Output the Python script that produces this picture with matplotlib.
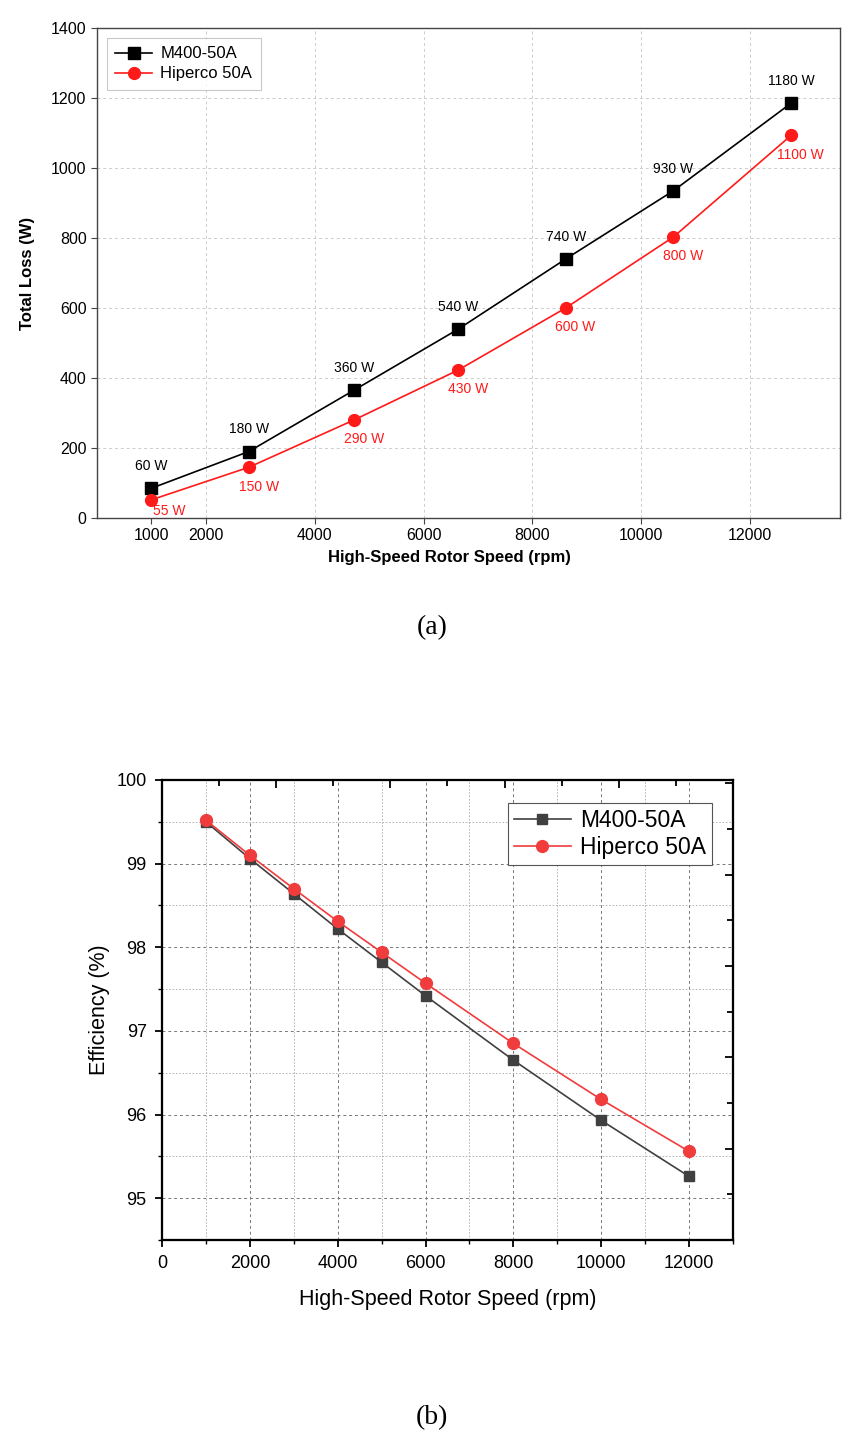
import matplotlib
matplotlib.use("Agg")
import matplotlib.pyplot as plt
from matplotlib.ticker import MultipleLocator, FixedLocator

plt.rcParams['font.family'] = ['Liberation Sans', 'DejaVu Sans']

# (a) total loss vs rotor speed
loss_speed = [1000, 2790, 4720, 6640, 8610, 10590, 12750]
loss_m400 = [85, 190, 365, 540, 740, 935, 1185]
loss_hiperco = [52, 145, 280, 423, 600, 803, 1093]
label_m400 = ["60 W", "180 W", "360 W", "540 W", "740 W", "930 W", "1180 W"]
label_hiperco = ["55 W", "150 W", "290 W", "430 W", "600 W", "800 W", "1100 W"]

# (b) efficiency vs rotor speed
eff_speed = [1000, 2000, 3000, 4000, 5000, 6000, 8000, 10000, 12000]
eff_m400 = [99.50, 99.06, 98.64, 98.22, 97.82, 97.42, 96.65, 95.93, 95.26]
eff_hiperco = [99.52, 99.10, 98.70, 98.31, 97.94, 97.57, 96.85, 96.18, 95.56]

W, H = 864, 1441
fig = plt.figure(figsize=(W / 100, H / 100), dpi=100)


def rect(left, top, right, bottom):
    return [left / W, 1 - bottom / H, (right - left) / W, (bottom - top) / H]


# ---------------- (a) ----------------
ax1 = fig.add_axes(rect(97, 28, 840, 518))
ax1.plot(loss_speed, loss_m400, color='black', lw=1.2, marker='s', ms=8,
         label='M400-50A', zorder=3)
ax1.plot(loss_speed, loss_hiperco, color='#ff1a1a', lw=1.2, marker='o', ms=8.5,
         label='Hiperco 50A', zorder=3)

for i, (x, y, t) in enumerate(zip(loss_speed, loss_m400, label_m400)):
    ax1.annotate(t, (x, y), xytext=(0, 16), textcoords='offset points',
                 ha='center', va='center', fontsize=10, color='black')
for i, (x, y, t) in enumerate(zip(loss_speed, loss_hiperco, label_hiperco)):
    off = (13, -8) if i == 0 else (7, -14)
    ax1.annotate(t, (x, y), xytext=off, textcoords='offset points',
                 ha='center', va='center', fontsize=10, color='#ff1a1a')

ax1.set_xlim(0, 13650)
ax1.set_ylim(0, 1400)
ax1.set_xticks(range(2000, 13000, 2000))
ax1.set_xticks([1000], minor=True)
ax1.set_xticklabels([str(v) for v in range(2000, 13000, 2000)])
ax1.set_xticklabels(['1000'], minor=True)
ax1.set_yticks(range(0, 1401, 200))
ax1.tick_params(axis='both', which='both', labelsize=11.5, direction='out',
                length=4, width=0.8, color='#444444')
ax1.grid(True, which='major', color='#cccccc', ls=(0, (3, 3)), lw=0.7)
for s in ax1.spines.values():
    s.set_color('#444444')
    s.set_linewidth(1.0)
ax1.set_xlabel('High-Speed Rotor Speed (rpm)', fontsize=12, fontweight='bold')
ax1.set_ylabel('Total Loss (W)', fontsize=12, fontweight='bold')
ax1.xaxis.set_label_coords(0.475, -0.08)
ax1.xaxis.label.set_va('center')
ax1.yaxis.set_label_coords(-0.094, 0.5)
ax1.yaxis.label.set_va('center')
leg1 = ax1.legend(loc='upper left', fontsize=12, frameon=True, fancybox=False,
                  edgecolor='#bbbbbb', borderaxespad=0.6, handlelength=2.2,
                  handletextpad=0.5, labelspacing=0.3, borderpad=0.5)
leg1.get_frame().set_linewidth(0.8)

fig.text(0.5, 1 - 628 / H, '(a)', ha='center', va='center', fontsize=20,
         family=['Liberation Serif', 'DejaVu Serif'])

# ---------------- (b) ----------------
ax2 = fig.add_axes(rect(162, 780, 733, 1240))
ax2.plot(eff_speed, eff_m400, color='#404040', lw=1.2, marker='s', ms=7,
         label='M400-50A', zorder=3)
ax2.plot(eff_speed, eff_hiperco, color='#f03c3c', lw=1.2, marker='o', ms=8.5,
         label='Hiperco 50A', zorder=4)
ax2.set_xlim(0, 13000)
ax2.set_ylim(94.5, 100)
ax2.xaxis.set_major_locator(MultipleLocator(2000))
ax2.xaxis.set_minor_locator(MultipleLocator(1000))
ax2.yaxis.set_major_locator(MultipleLocator(1))
ax2.yaxis.set_minor_locator(MultipleLocator(0.5))
ax2.tick_params(axis='both', which='major', labelsize=13, direction='out',
                length=5, width=1.3, pad=6)
ax2.tick_params(axis='both', which='minor', direction='out', length=3, width=1.0)
ax2.grid(True, which='major', color='#777777', ls=(0, (3, 3)), lw=0.7)
ax2.grid(True, which='minor', color='#aaaaaa', ls=(0, (2, 2)), lw=0.6)
for s in ax2.spines.values():
    s.set_color('black')
    s.set_linewidth(1.5)
ax2.set_xlabel('High-Speed Rotor Speed (rpm)', fontsize=15.5)
ax2.set_ylabel('Efficiency (%)', fontsize=15.5)
ax2.xaxis.set_label_coords(0.5, -0.13)
ax2.xaxis.label.set_va('center')
ax2.yaxis.set_label_coords(-0.11, 0.5)
ax2.yaxis.label.set_va('center')

# Origin-style mirrored top / right axes with their own tick spacing
top = ax2.twiny()
top.set_xlim(0, 10)
top.xaxis.set_major_locator(FixedLocator([2, 4, 6, 8]))
top.xaxis.set_minor_locator(FixedLocator([1, 3, 5, 7, 9]))
top.tick_params(axis='x', which='both', direction='in', labeltop=False, width=1.3)
top.tick_params(axis='x', which='major', length=6)
top.tick_params(axis='x', which='minor', length=4)
right = ax2.twinx()
right.set_ylim(0, 10.07)
right.yaxis.set_major_locator(FixedLocator([2, 4, 6, 8, 10]))
right.yaxis.set_minor_locator(FixedLocator([1, 3, 5, 7, 9]))
right.tick_params(axis='y', which='both', direction='in', labelright=False, width=1.3)
right.tick_params(axis='y', which='major', length=6)
right.tick_params(axis='y', which='minor', length=4)
for a in (top, right):
    for s in a.spines.values():
        s.set_linewidth(1.5)

leg2 = ax2.legend(loc='upper right', bbox_to_anchor=(712 / W, 1 - 803 / H),
                  bbox_transform=fig.transFigure, fontsize=16.5, frameon=True,
                  fancybox=False, edgecolor='#555555', framealpha=1,
                  borderaxespad=0, handlelength=2.5, handletextpad=0.4,
                  labelspacing=0.2, borderpad=0.25)
leg2.get_frame().set_linewidth(0.8)

fig.text(0.5, 1 - 1418 / H, '(b)', ha='center', va='center', fontsize=20,
         family=['Liberation Serif', 'DejaVu Serif'])

fig.savefig('out.png', dpi=100)
